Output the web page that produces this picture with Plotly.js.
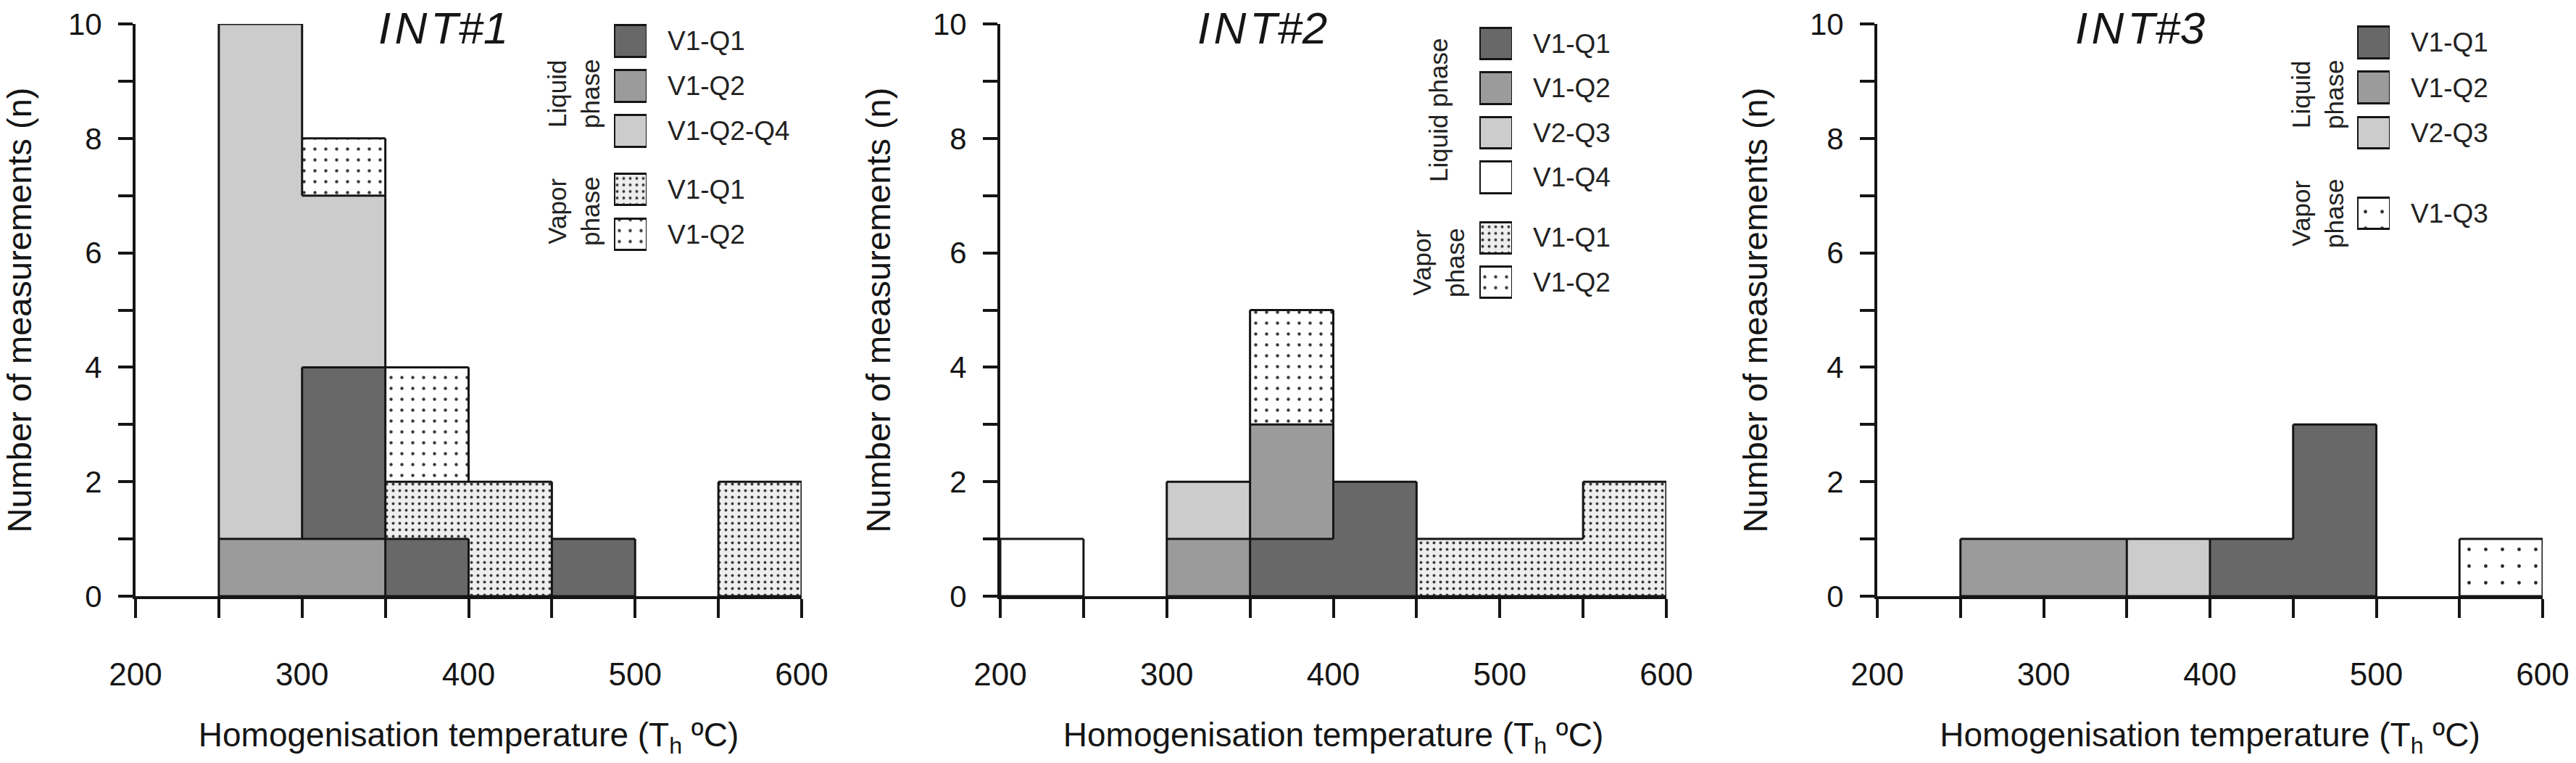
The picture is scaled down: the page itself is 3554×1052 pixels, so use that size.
<!DOCTYPE html>
<html>
<head>
<meta charset="utf-8">
<script src="https://cdn.plot.ly/plotly-3.0.1.min.js"></script>
<style>
  html, body { margin: 0; padding: 0; background: #ffffff; }
  #chart { width: 3554px; height: 1052px; }
</style>
</head>
<body>
<div id="chart"></div>
<script>
// ------------------------------------------------------------------
// DATA
// ------------------------------------------------------------------
// Histogram bins of 50 °C; values are counts per bin.
const binCenters = [225, 275, 325, 375, 425, 475, 525, 575];
const binWidth = 50;
const xTickVals = [200, 300, 400, 500, 600];
const xTickText = ['200', '300', '400', '500', '600'];
const yTickVals = [0, 2, 4, 6, 8, 10];
const yTickText = ['0', '2', '4', '6', '8', '10'];

const panelTitles = ['INT#1', 'INT#2', 'INT#3'];
const xTitle = 'Homogenisation temperature (T<sub>h</sub> ºC)';
const yTitle = 'Number of measurements (n)';
const liquidLabel = ['Liquid<br>phase', 'Liquid phase', 'Liquid<br>phase'];
const vaporLabel = ['Vapor<br>phase', 'Vapor<br>phase', 'Vapor<br>phase'];

// INT#1
const int1_liq_V1Q1   = [0, 0, 3, 1, 0, 1, 0, 0];
const int1_liq_V1Q2   = [0, 1, 1, 0, 0, 0, 0, 0];
const int1_liq_V1Q2Q4 = [0, 9, 3, 0, 0, 0, 0, 0];
const int1_vap_V1Q1   = [0, 0, 0, 1, 2, 0, 0, 2];
const int1_vap_V1Q2   = [0, 0, 1, 2, 0, 0, 0, 0];

// INT#2
const int2_liq_V1Q1 = [0, 0, 0, 1, 2, 0, 0, 0];
const int2_liq_V1Q2 = [0, 0, 1, 2, 0, 0, 0, 0];
const int2_liq_V2Q3 = [0, 0, 1, 0, 0, 0, 0, 0];
const int2_liq_V1Q4 = [1, 0, 0, 0, 0, 0, 0, 0];
const int2_vap_V1Q1 = [0, 0, 0, 0, 0, 1, 1, 2];
const int2_vap_V1Q2 = [0, 0, 0, 2, 0, 0, 0, 0];

// INT#3
const int3_liq_V1Q1 = [0, 0, 0, 0, 1, 3, 0, 0];
const int3_liq_V1Q2 = [0, 1, 1, 0, 0, 0, 0, 0];
const int3_liq_V2Q3 = [0, 0, 0, 1, 0, 0, 0, 0];
const int3_vap_V1Q3 = [0, 0, 0, 0, 0, 0, 0, 1];

// ------------------------------------------------------------------
// STYLES
// ------------------------------------------------------------------
const FONT = 'Liberation Sans, Arial, Helvetica, sans-serif';
const INK = '#151515';
const STYLE = {
  dark:  { color: '#686868' },
  mid:   { color: '#9b9b9b' },
  light: { color: '#cccccc' },
  white: { color: '#ffffff' },
  dotsDense:  { color: '#eeeeee', pattern: { shape: '.', size: 9,  solidity: 0.15, fgcolor: '#3a3a3a', bgcolor: '#eeeeee', fillmode: 'replace' } },
  dotsMid:    { color: '#ffffff', pattern: { shape: '.', size: 15, solidity: 0.07, fgcolor: '#3a3a3a', bgcolor: '#ffffff', fillmode: 'replace' } },
  dotsSparse: { color: '#ffffff', pattern: { shape: '.', size: 23, solidity: 0.035, fgcolor: '#2a2a2a', bgcolor: '#ffffff', fillmode: 'replace' } }
};

// Series per panel, listed in stacking order (bottom -> top); legendRank gives legend order.
const panels = [
  { series: [
      { name: 'V1-Q2',    phase: 'liquid', style: 'mid',       values: int1_liq_V1Q2,   legendRank: 1 },
      { name: 'V1-Q1',    phase: 'liquid', style: 'dark',      values: int1_liq_V1Q1,   legendRank: 0 },
      { name: 'V1-Q2-Q4', phase: 'liquid', style: 'light',     values: int1_liq_V1Q2Q4, legendRank: 2 },
      { name: 'V1-Q1',    phase: 'vapor',  style: 'dotsDense', values: int1_vap_V1Q1,   legendRank: 3 },
      { name: 'V1-Q2',    phase: 'vapor',  style: 'dotsMid',   values: int1_vap_V1Q2,   legendRank: 4 }
  ]},
  { series: [
      { name: 'V1-Q1', phase: 'liquid', style: 'dark',      values: int2_liq_V1Q1, legendRank: 0 },
      { name: 'V1-Q2', phase: 'liquid', style: 'mid',       values: int2_liq_V1Q2, legendRank: 1 },
      { name: 'V2-Q3', phase: 'liquid', style: 'light',     values: int2_liq_V2Q3, legendRank: 2 },
      { name: 'V1-Q4', phase: 'liquid', style: 'white',     values: int2_liq_V1Q4, legendRank: 3 },
      { name: 'V1-Q1', phase: 'vapor',  style: 'dotsDense', values: int2_vap_V1Q1, legendRank: 4 },
      { name: 'V1-Q2', phase: 'vapor',  style: 'dotsMid',   values: int2_vap_V1Q2, legendRank: 5 }
  ]},
  { series: [
      { name: 'V1-Q1', phase: 'liquid', style: 'dark',       values: int3_liq_V1Q1, legendRank: 0 },
      { name: 'V1-Q2', phase: 'liquid', style: 'mid',        values: int3_liq_V1Q2, legendRank: 1 },
      { name: 'V2-Q3', phase: 'liquid', style: 'light',      values: int3_liq_V2Q3, legendRank: 2 },
      { name: 'V1-Q3', phase: 'vapor',  style: 'dotsSparse', values: int3_vap_V1Q3, legendRank: 3 }
  ]}
];

// ------------------------------------------------------------------
// GEOMETRY (pixels in the 3554 x 1052 canvas)
// ------------------------------------------------------------------
const W = 3554, H = 1052;
const G = {
  plotTop: 33, plotBottom: 822,
  panelX: [[187, 1106], [1380, 2299], [2590, 3508]],
  titleXY: [[611, 38], [1741, 38], [2952, 38]],
  swatchX: [[847, 892], [2041, 2086], [3252, 3297]],
  row0: [56.5, 60, 58.5],
  pitch: [62, 61.5, 62.25],
  vaporGap: [0.3, 0.35, 0.78],
  liquidLabelXY: [[791, 130], [1985, 151], [3197, 131]],
  vaporLabelXY: [[791, 292], [1984, 363], [3197, 295]]
};
const px = x => x / W;
const py = y => 1 - y / H;

// ------------------------------------------------------------------
// BUILD
// ------------------------------------------------------------------
// Outline of the stacked histogram: edges drawn wherever two neighbouring
// unit cells belong to different series (so same-series runs merge).
function outline(series) {
  const nb = binCenters.length;
  const owner = [];
  for (let b = 0; b < nb; b++) {
    const col = [];
    series.forEach((s, si) => { for (let k = 0; k < Math.round(s.values[b]); k++) col.push(si); });
    owner.push(col);
  }
  const maxH = Math.max(...owner.map(c => c.length));
  const get = (b, l) => (b < 0 || b >= nb || l < 0 || l >= owner[b].length) ? -1 : owner[b][l];
  const xs = [], ys = [];
  const seg = (x0, y0, x1, y1) => { xs.push(x0, x1, null); ys.push(y0, y1, null); };
  for (let l = 0; l <= maxH; l++) {
    let start = null;
    for (let b = 0; b <= nb; b++) {
      const diff = b < nb && get(b, l - 1) !== get(b, l);
      if (diff && start === null) start = b;
      if (!diff && start !== null) {
        seg(binCenters[start] - binWidth / 2, l, binCenters[b - 1] + binWidth / 2, l);
        start = null;
      }
    }
  }
  for (let b = 0; b <= nb; b++) {
    const x = b < nb ? binCenters[b] - binWidth / 2 : binCenters[nb - 1] + binWidth / 2;
    let start = null;
    for (let l = 0; l <= maxH; l++) {
      const diff = l < maxH && get(b - 1, l) !== get(b, l);
      if (diff && start === null) start = l;
      if (!diff && start !== null) { seg(x, start, x, l); start = null; }
    }
  }
  return { xs, ys };
}

const traces = [];
const layout = {
  width: W, height: H,
  margin: { l: 0, r: 0, t: 0, b: 0, pad: 0 },
  paper_bgcolor: '#ffffff', plot_bgcolor: 'rgba(0,0,0,0)',
  font: { family: FONT, color: INK },
  barmode: 'stack', bargap: 0,
  showlegend: false,
  annotations: []
};

panels.forEach((panel, p) => {
  const xa = p === 0 ? 'x' : 'x' + (p + 1);
  const ya = p === 0 ? 'y' : 'y' + (p + 1);
  const xKey = p === 0 ? 'xaxis' : 'xaxis' + (p + 1);
  const yKey = p === 0 ? 'yaxis' : 'yaxis' + (p + 1);

  panel.series.forEach(s => {
    const st = STYLE[s.style];
    const marker = { color: st.color, line: { width: 0 } };
    if (st.pattern) marker.pattern = st.pattern;
    traces.push({
      type: 'bar', x: binCenters, y: s.values, width: binWidth,
      name: s.name + ' (' + s.phase + ')', marker: marker,
      xaxis: xa, yaxis: ya, cliponaxis: false, hoverinfo: 'skip'
    });
  });

  const o = outline(panel.series);
  traces.push({
    type: 'scatter', mode: 'lines', x: o.xs, y: o.ys,
    line: { color: INK, width: 3 }, connectgaps: false,
    xaxis: xa, yaxis: ya, cliponaxis: false, hoverinfo: 'skip'
  });

  layout[xKey] = {
    domain: [px(G.panelX[p][0]), px(G.panelX[p][1])], anchor: ya,
    range: [200, 600], fixedrange: true,
    tickmode: 'array', tickvals: xTickVals, ticktext: xTickText,
    ticks: 'outside', ticklen: 26, tickwidth: 4, tickcolor: INK,
    minor: { tick0: 200, dtick: 50, ticks: 'outside', ticklen: 26, tickwidth: 4, tickcolor: INK, showgrid: false },
    showline: true, linewidth: 4, linecolor: INK,
    showgrid: false, zeroline: false,
    tickfont: { family: FONT, size: 44, color: INK },
    ticklabelstandoff: 40,
    title: { text: xTitle, font: { family: FONT, size: 46, color: INK }, standoff: 45 }
  };
  layout[yKey] = {
    domain: [py(G.plotBottom), py(G.plotTop)], anchor: xa,
    range: [0, 10], fixedrange: true,
    tickmode: 'array', tickvals: yTickVals, ticktext: yTickText,
    ticks: 'outside', ticklen: 20, tickwidth: 4, tickcolor: INK,
    minor: { tick0: 0, dtick: 1, ticks: 'outside', ticklen: 20, tickwidth: 4, tickcolor: INK, showgrid: false },
    showline: true, linewidth: 4, linecolor: INK,
    showgrid: false, zeroline: false,
    tickfont: { family: FONT, size: 42, color: INK },
    ticklabelstandoff: 14,
    title: { text: yTitle, font: { family: FONT, size: 47, color: INK }, standoff: 44 }
  };

  // panel title
  layout.annotations.push({
    xref: 'paper', yref: 'paper', x: px(G.titleXY[p][0]), y: py(G.titleXY[p][1]),
    xanchor: 'center', yanchor: 'middle', showarrow: false,
    text: panelTitles[p].replace('INT', 'I\u200AN\u200AT'),
    font: { family: FONT, size: 62, color: INK, style: 'italic' }
  });

  // legend drawn as its own small subplot (swatches = bars, labels = tick labels)
  const lx = 'x' + (p + 4), ly = 'y' + (p + 4);
  const ordered = panel.series.slice().sort((a, b) => a.legendRank - b.legendRank);
  const rows = ordered.map((s, i) => i + (s.phase === 'vapor' ? G.vaporGap[p] : 0));
  const last = rows[rows.length - 1];
  const topPx = G.row0[p] - 0.5 * G.pitch[p];
  const botPx = G.row0[p] + (last + 0.5) * G.pitch[p];
  ordered.forEach((s, i) => {
    const st = STYLE[s.style];
    const marker = { color: st.color, line: { width: 3, color: INK } };
    if (st.pattern) marker.pattern = st.pattern;
    traces.push({
      type: 'bar', orientation: 'h', y: [rows[i]], x: [1], width: 0.7,
      marker: marker, xaxis: lx, yaxis: ly, hoverinfo: 'skip', cliponaxis: false
    });
  });
  layout['xaxis' + (p + 4)] = {
    domain: [px(G.swatchX[p][0]), px(G.swatchX[p][1])], anchor: ly,
    range: [0, 1], visible: false, fixedrange: true
  };
  layout['yaxis' + (p + 4)] = {
    domain: [py(botPx), py(topPx)], anchor: lx, side: 'right',
    range: [last + 0.5, -0.5], fixedrange: true,
    tickmode: 'array', tickvals: rows, ticktext: ordered.map(s => s.name),
    ticks: '', showline: false, showgrid: false, zeroline: false,
    tickfont: { family: FONT, size: 37, color: '#222' },
    ticklabelstandoff: 28
  };

  layout.annotations.push({
    xref: 'paper', yref: 'paper', x: px(G.liquidLabelXY[p][0]), y: py(G.liquidLabelXY[p][1]),
    xanchor: 'center', yanchor: 'middle', showarrow: false, textangle: -90,
    text: liquidLabel[p], font: { family: FONT, size: 35, color: '#222' }
  });
  layout.annotations.push({
    xref: 'paper', yref: 'paper', x: px(G.vaporLabelXY[p][0]), y: py(G.vaporLabelXY[p][1]),
    xanchor: 'center', yanchor: 'middle', showarrow: false, textangle: -90,
    text: vaporLabel[p], font: { family: FONT, size: 35, color: '#222' }
  });
});

Plotly.newPlot('chart', traces, layout, { staticPlot: true, displayModeBar: false });
</script>
</body>
</html>
